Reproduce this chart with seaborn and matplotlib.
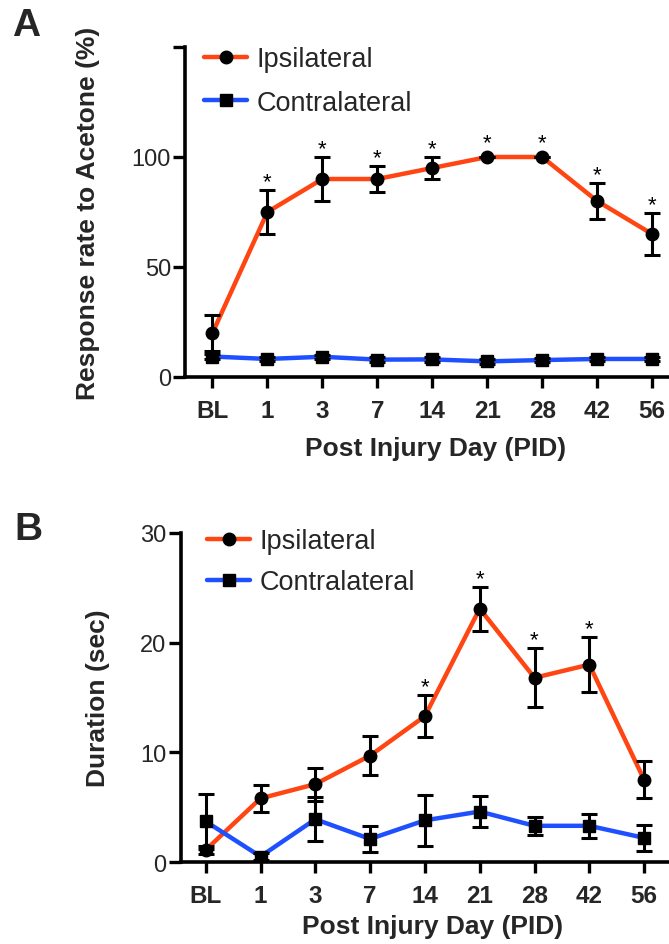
import matplotlib
matplotlib.use("Agg")
import matplotlib.pyplot as plt
import seaborn as sns
import numpy as np
import pandas as pd
from matplotlib.lines import Line2D

# ---------------- data ----------------
days = ["BL", "1", "3", "7", "14", "21", "28", "42", "56"]

a_ipsi = [20, 75, 90, 90, 95, 100, 100, 80, 65]
a_ipsi_sem = [8, 10, 10, 6, 5, 0, 0, 8, 9.5]
a_contra = [9.3, 8.2, 9.2, 7.9, 8.0, 7.1, 7.7, 8.2, 8.2]
a_contra_sem = [1.0, 1.0, 1.0, 1.0, 1.0, 1.0, 1.0, 1.0, 1.0]
a_sig = [False, True, True, True, True, True, True, True, True]

b_ipsi = [1.1, 5.8, 7.1, 9.7, 13.3, 23.1, 16.8, 18.0, 7.5]
b_ipsi_sem = [0.4, 1.2, 1.5, 1.8, 1.9, 2.0, 2.7, 2.5, 1.7]
b_contra = [3.7, 0.5, 3.9, 2.1, 3.8, 4.6, 3.3, 3.3, 2.2]
b_contra_sem = [2.5, 0.3, 2.0, 1.2, 2.3, 1.4, 0.8, 1.1, 1.2]
b_sig = [False, False, False, False, True, True, True, True, False]

ORANGE = "#ff4512"
BLUE = "#1f50ff"

sns.set_theme(style="white")
plt.rcParams["font.family"] = ["Liberation Sans", "DejaVu Sans"]

W, H = 669, 945
fig = plt.figure(figsize=(W / 100, H / 100), dpi=100)


def px_axes(left, right, top, bottom):
    return fig.add_axes([left / W, 1 - bottom / H, (right - left) / W, (bottom - top) / H])


def draw_panel(ax, ipsi, ipsi_sem, contra, contra_sem, sig, ylim, yticks, yticklabels,
               ylabel, xleft, star_off):
    x = np.arange(len(days))
    df = pd.DataFrame({"x": np.concatenate([x, x]),
                       "y": np.concatenate([ipsi, contra]),
                       "side": ["Ipsilateral"] * len(x) + ["Contralateral"] * len(x)})
    sns.lineplot(data=df[df.side == "Ipsilateral"], x="x", y="y", color=ORANGE,
                 lw=3.2, ax=ax, zorder=2, legend=False)
    sns.lineplot(data=df[df.side == "Contralateral"], x="x", y="y", color=BLUE,
                 lw=3.2, ax=ax, zorder=3, legend=False)
    ax.errorbar(x, ipsi, yerr=ipsi_sem, fmt="none", ecolor="black", elinewidth=2.2,
                capsize=6, capthick=2.2, zorder=4)
    ax.errorbar(x, contra, yerr=contra_sem, fmt="none", ecolor="black", elinewidth=2.2,
                capsize=6, capthick=2.2, zorder=4)
    ax.plot(x, ipsi, ls="none", marker="o", ms=9, color="black", zorder=5)
    ax.plot(x, contra, ls="none", marker="s", ms=8.5, color="black", zorder=5)

    for i in range(len(x)):
        if sig[i]:
            top = ipsi[i] + max(ipsi_sem[i], star_off)
            ax.annotate("*", xy=(x[i], top), xytext=(0, 2), textcoords="offset points",
                        ha="center", va="baseline", fontsize=16, color="black")

    ax.set_xlim(xleft, 8.5)
    ax.set_ylim(*ylim)
    ax.set_xticks(x)
    ax.set_xticklabels(days)
    ax.set_yticks(yticks)
    ax.set_yticklabels(yticklabels)
    for lab in ax.get_xticklabels():
        lab.set_fontweight("bold")
    ax.tick_params(axis="x", length=8, width=2.4, pad=8, labelsize=17.5, color="black",
                   bottom=True, direction="out")
    ax.tick_params(axis="y", length=9, width=2.4, pad=1, labelsize=17, color="black",
                   left=True, direction="out")
    for s in ["top", "right"]:
        ax.spines[s].set_visible(False)
    for s in ["left", "bottom"]:
        ax.spines[s].set_linewidth(2.6)
        ax.spines[s].set_color("black")
    ax.set_xlabel("Post Injury Day (PID)", fontsize=19, fontweight="bold")
    ax.set_ylabel(ylabel, fontsize=19, fontweight="bold")
    ax.set_facecolor("none")

    handles = [Line2D([], [], color=ORANGE, lw=3.2, marker="o", ms=9, mfc="black", mec="black"),
               Line2D([], [], color=BLUE, lw=3.2, marker="s", ms=8.5, mfc="black", mec="black")]
    return handles


# Panel A
axA = px_axes(185, 185 + 9 * 54.95, 48, 378)
hA = draw_panel(axA, a_ipsi, a_ipsi_sem, a_contra, a_contra_sem, a_sig,
                (0, 150), [0, 50, 100, 150], ["0", "50", "100", ""],
                "Response rate to Acetone (%)", -0.5, 2.7)
axA.xaxis.set_label_coords(0.507, -0.18)
axA.yaxis.set_label_coords(-0.172, 0.5)
axA.legend(hA, ["Ipsilateral", "Contralateral"], loc="upper left", frameon=False,
           fontsize=19.5, handlelength=1.6, handletextpad=0.35, labelspacing=0.66,
           borderpad=0, borderaxespad=0, bbox_to_anchor=(204 / W, 1 - 47 / H),
           bbox_transform=fig.transFigure)

# Panel B
axB = px_axes(180.5, 180.5 + 8.96 * 54.8, 534, 863)
hB = draw_panel(axB, b_ipsi, b_ipsi_sem, b_contra, b_contra_sem, b_sig,
                (0, 30), [0, 10, 20, 30], ["0", "10", "20", "30"],
                "Duration (sec)", -0.46, 0.55)
axB.xaxis.set_label_coords(0.513, -0.158)
axB.yaxis.set_label_coords(-0.144, 0.5)
axB.legend(hB, ["Ipsilateral", "Contralateral"], loc="upper left", frameon=False,
           fontsize=19.5, handlelength=1.6, handletextpad=0.35, labelspacing=0.56,
           borderpad=0, borderaxespad=0, bbox_to_anchor=(207 / W, 1 - 529 / H),
           bbox_transform=fig.transFigure)

fig.text(12 / W, 1 - 8 / H, "A", fontsize=28, fontweight="bold", ha="left", va="top")
fig.text(14 / W, 1 - 512 / H, "B", fontsize=28, fontweight="bold", ha="left", va="top")

fig.savefig("out.png", dpi=100)
